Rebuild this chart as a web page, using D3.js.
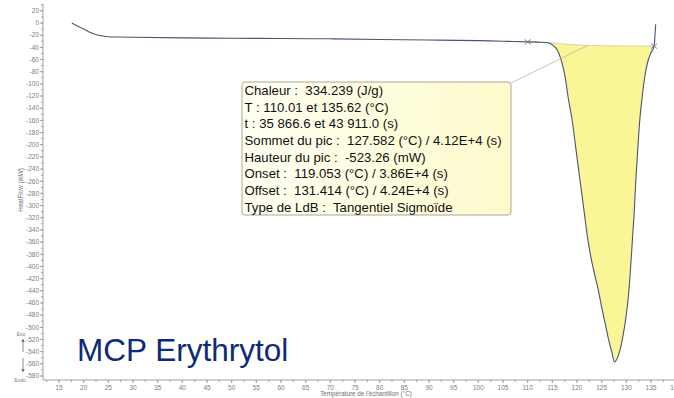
<!DOCTYPE html>
<html>
<head>
<meta charset="utf-8">
<script src="https://cdn.jsdelivr.net/npm/d3@7"></script>
<style>
  html, body { margin: 0; padding: 0; background: #fff; }
  svg { display: block; font-family: "Liberation Sans", Arial, sans-serif; }
  .tick text { fill: #808080; font-size: 6.5px; }
</style>
</head>
<body>
<svg id="chart" width="674" height="398"></svg>
<script>
// DSC heat-flow curve (temperature in °C, heat flow in mW)
const flowT = [17.6, 18.5, 19.5, 20.5, 21.5, 22.5, 23.5, 25, 27, 30, 40, 50, 60, 70, 80, 90, 100, 105,
  110.01, 112, 113.5, 114.3, 115, 115.6, 116.1, 116.6, 117.1, 117.6, 118.2, 119.0, 119.8, 120.6, 121.4,
  122.2, 123.2, 124.3, 125.0, 125.7, 126.4, 127.1, 127.582, 128.1, 128.7, 129.3, 129.9, 130.4, 130.8,
  131.2, 131.6, 131.9, 132.3, 132.7, 133.2, 133.8, 134.4, 135.0, 135.62, 135.8, 135.95];
const flowHF = [0, -4, -8, -12, -16, -19, -21, -22.5, -23, -23.5, -24.5, -25, -25.5, -26, -27, -28, -29, -30,
  -31, -31.5, -32, -33, -36, -40, -46, -56, -70, -89, -122, -159, -208, -258, -307,
  -356, -400, -438, -467, -493, -520, -542, -557, -552, -538, -515, -485, -450, -410,
  -360, -310, -262, -210, -162, -122, -85, -62, -49, -38, -22, -2];

// Tangential sigmoid baseline under the melting peak
const baseT = [110.01, 113, 115, 117, 119, 121, 123, 125, 128, 131, 135.62];
const baseHF = [-31, -31.5, -32.5, -34, -35.5, -36.5, -37, -37.3, -37.6, -37.8, -38];

// Integration limits
const limitT = [110.01, 135.62];

// Axis ticks
const xTicks = d3.range(15, 141, 5);
const xMinor = d3.range(12.5, 141, 2.5);
const yTicks = d3.range(20, -581, -20);
const yMinor = d3.range(30, -586, -10);

// Peak analysis results
const infoLines = [
  "Chaleur :  334.239 (J/g)",
  "T : 110.01 et 135.62 (°C)",
  "t : 35 866.6 et 43 911.0 (s)",
  "Sommet du pic :  127.582 (°C) / 4.12E+4 (s)",
  "Hauteur du pic :  -523.26 (mW)",
  "Onset :  119.053 (°C) / 3.86E+4 (s)",
  "Offset :  131.414 (°C) / 4.24E+4 (s)",
  "Type de LdB :  Tangentiel Sigmoïde"
];
const leaderT = 122.2;

const title = "MCP Erythrytol";
const xTitle = "Température de l'échantillon (°C)";
const yTitle = "HeatFlow (mW)";

const svg = d3.select("#chart");

const x = d3.scaleLinear().domain([15, 135]).range([59, 651]);
const y = d3.scaleLinear().domain([0, -580]).range([23, 376]);

const axisColor = "#a0a0a0";
const axisX = 43, axisY = 380;

// Area between curve and baseline (integrated peak)
const baseAt = t => {
  const i = d3.bisectRight(baseT, t);
  if (i <= 0) return baseHF[0];
  if (i >= baseT.length) return baseHF[baseHF.length - 1];
  const f = (t - baseT[i - 1]) / (baseT[i] - baseT[i - 1]);
  return baseHF[i - 1] + f * (baseHF[i] - baseHF[i - 1]);
};
const curvePts = flowT.map((t, i) => [t, flowHF[i]]);
const peakPts = curvePts.filter(p => p[0] >= limitT[0] && p[0] <= limitT[1]);

const smooth = d3.line().x(d => x(d[0])).y(d => y(d[1])).curve(d3.curveMonotoneX);
const straight = d3.line().x(d => x(d[0])).y(d => y(d[1]));

const area = d3.area()
  .x(d => x(d[0]))
  .y0(d => y(baseAt(d[0])))
  .y1(d => y(d[1]))
  .curve(d3.curveMonotoneX);

svg.append("path")
  .attr("d", area(peakPts))
  .attr("fill", "#faf595")
  .attr("stroke", "none");

// Baseline
svg.append("path")
  .attr("d", straight(baseT.map((t, i) => [t, baseHF[i]])))
  .attr("fill", "none")
  .attr("stroke", "#cfcb9c")
  .attr("stroke-width", 0.8);

// Heat-flow curve
svg.append("path")
  .attr("d", smooth(curvePts))
  .attr("fill", "none")
  .attr("stroke", "#4e5373")
  .attr("stroke-width", 1.1);

// Integration limit markers
limitT.forEach(t => {
  const cx = x(t), cy = y(baseAt(t));
  svg.append("path")
    .attr("d", `M${cx - 3},${cy - 2.5}L${cx + 3},${cy + 2.5}M${cx - 3},${cy + 2.5}L${cx + 3},${cy - 2.5}`)
    .attr("stroke", "#6a6f8a")
    .attr("stroke-width", 0.9);
});

// Y axis
const yAxis = svg.append("g").attr("transform", `translate(${axisX},0)`);
yAxis.append("line").attr("x1", 0).attr("x2", 0).attr("y1", 4).attr("y2", axisY).attr("stroke", axisColor);
yAxis.selectAll(".ymin").data(yMinor).join("line")
  .attr("x1", -2).attr("x2", 0).attr("y1", d => y(d)).attr("y2", d => y(d)).attr("stroke", axisColor);
const yt = yAxis.selectAll(".tick").data(yTicks).join("g").attr("class", "tick")
  .attr("transform", d => `translate(0,${y(d)})`);
yt.append("line").attr("x1", -3).attr("x2", 0).attr("stroke", axisColor);
yt.append("text").attr("x", -4).attr("dy", "0.35em").attr("text-anchor", "end").text(d => d);

// X axis
const xAxis = svg.append("g").attr("transform", `translate(0,${axisY})`);
xAxis.append("line").attr("x1", axisX).attr("x2", 674).attr("y1", 0).attr("y2", 0).attr("stroke", axisColor);
xAxis.selectAll(".xmin").data(xMinor).join("line")
  .attr("x1", d => x(d)).attr("x2", d => x(d)).attr("y1", 0).attr("y2", 2).attr("stroke", axisColor);
const xt = xAxis.selectAll(".tick").data(xTicks).join("g").attr("class", "tick")
  .attr("transform", d => `translate(${x(d)},0)`);
xt.append("line").attr("y1", 0).attr("y2", 3).attr("stroke", axisColor);
xt.append("text").attr("y", 9.5).attr("text-anchor", "middle").text(d => d);

// Axis titles
svg.append("text")
  .attr("x", 366).attr("y", 395.5)
  .attr("text-anchor", "middle")
  .attr("font-size", 6.3).attr("fill", "#707070")
  .text(xTitle);
svg.append("text")
  .attr("transform", "translate(23,190) rotate(-90)")
  .attr("text-anchor", "middle")
  .attr("font-size", 6.3).attr("fill", "#707070")
  .text(yTitle);

// Exo / Endo indicator
svg.append("text").attr("x", 21).attr("y", 336).attr("text-anchor", "middle")
  .attr("font-size", 5).attr("fill", "#808080").text("Exo");
svg.append("text").attr("x", 20).attr("y", 382).attr("text-anchor", "middle")
  .attr("font-size", 5).attr("fill", "#808080").text("Endo");
const arrow = (x0, y0, y1) => {
  const dir = Math.sign(y1 - y0);
  svg.append("line").attr("x1", x0).attr("x2", x0).attr("y1", y0).attr("y2", y1)
    .attr("stroke", "#707070").attr("stroke-width", 0.8);
  svg.append("path")
    .attr("d", `M${x0 - 1.8},${y1 - dir * 3}L${x0},${y1}L${x0 + 1.8},${y1 - dir * 3}Z`)
    .attr("fill", "#707070");
};
arrow(23, 352, 339);
arrow(23, 358, 372);

// Info box with leader line
const box = { x: 242, y: 82, w: 269, h: 133 };
const defs = svg.append("defs");
const grad = defs.append("linearGradient").attr("id", "boxFill")
  .attr("x1", "0%").attr("x2", "100%").attr("y1", "0%").attr("y2", "0%");
grad.append("stop").attr("offset", "0%").attr("stop-color", "#fffff2");
grad.append("stop").attr("offset", "100%").attr("stop-color", "#fdfbcc");

svg.append("line")
  .attr("x1", box.x + box.w).attr("y1", box.y + 1)
  .attr("x2", x(leaderT)).attr("y2", y(baseAt(leaderT)))
  .attr("stroke", "#b8b8b0").attr("stroke-width", 0.8);

svg.append("rect")
  .attr("x", box.x).attr("y", box.y).attr("width", box.w).attr("height", box.h)
  .attr("rx", 3).attr("ry", 3)
  .attr("fill", "url(#boxFill)")
  .attr("stroke", "#a8a898").attr("stroke-width", 1);

svg.append("g").selectAll("text").data(infoLines).join("text")
  .attr("x", box.x + 2.5)
  .attr("y", (d, i) => 94.8 + i * 16.7)
  .attr("font-size", 13.2)
  .attr("fill", "#111")
  .style("white-space", "pre")
  .text(d => d);

// Sample label
svg.append("text")
  .attr("x", 77).attr("y", 361)
  .attr("font-size", 31.5)
  .attr("fill", "#0c2b78")
  .text(title);
</script>
</body>
</html>
